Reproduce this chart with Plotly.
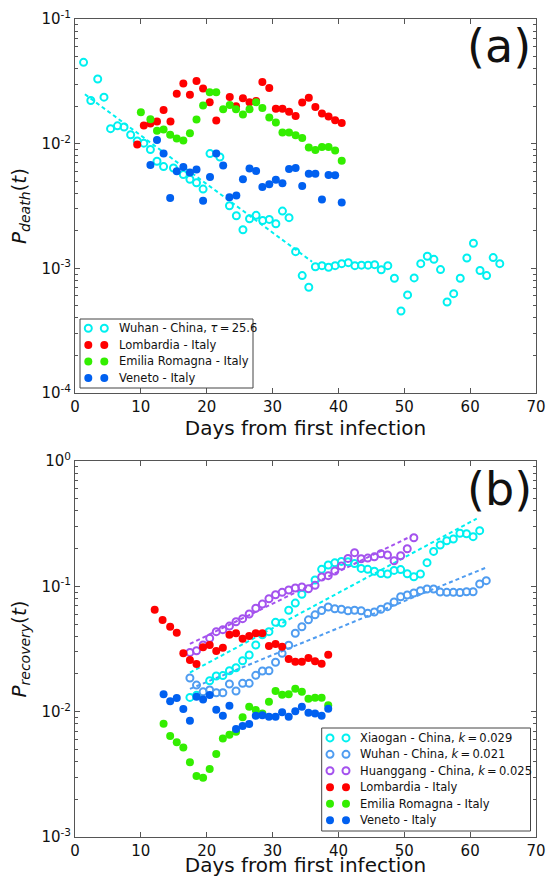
import plotly.graph_objects as go

# ---------------- Panel (a): death probability ----------------
wuhan_a_x = [1.3, 2.4, 3.45, 4.4, 5.4, 6.45, 7.45, 8.45, 9.45, 10.45, 11.45, 12.45, 13.45, 14.95,
             16.45, 17.45, 18.45, 19.45, 20.5, 22.0, 23.45, 24.5, 25.5, 26.5, 27.5, 28.5, 29.5,
             30.5, 31.5, 32.5, 33.5, 34.5, 35.5, 36.5, 37.5, 38.5, 39.5, 40.5, 41.5, 42.5, 43.5,
             44.5, 45.5, 46.5, 47.5, 48.5, 49.5, 50.5, 51.5, 52.5, 53.5, 54.5, 55.5, 56.5, 57.5,
             58.5, 59.5, 60.5, 61.5, 62.5, 63.5, 64.5]
wuhan_a_y = [0.0449, 0.0222, 0.0330, 0.0236, 0.0132, 0.0139, 0.0136, 0.0118, 0.0105, 0.0101,
             0.00897, 0.00723, 0.00655, 0.00638, 0.00565, 0.00518, 0.00486, 0.00432, 0.00832,
             0.00781, 0.00318, 0.00264, 0.00204, 0.00250, 0.00266, 0.00242, 0.00247, 0.00228,
             0.00288, 0.00255, 0.00136, 0.000875, 0.000705, 0.00103, 0.00105, 0.00102, 0.00105,
             0.00109, 0.00111, 0.00105, 0.00106, 0.00106, 0.00107, 0.000973, 0.00105, 0.000832,
             0.000455, 0.000612, 0.000838, 0.00109, 0.00125, 0.00118, 0.000977, 0.000537,
             0.000626, 0.000832, 0.00121, 0.00159, 0.00096, 0.000875, 0.00122, 0.00109]
wuhan_a_fit_x = [1.5, 36.0]
wuhan_a_fit_y = [0.0249, 0.00113]

lomb_a_x = [9.45, 10.45, 11.45, 12.45, 13.45, 14.5, 15.45, 16.45, 17.45, 18.45, 19.45, 20.45,
            21.45, 23.5, 24.45, 25.5, 26.5, 27.5, 28.45, 29.5, 30.5, 31.5, 32.5, 33.5, 34.5,
            35.5, 36.5, 37.5, 38.5, 39.5, 40.5]
lomb_a_y = [0.00984, 0.01396, 0.01452, 0.01507, 0.01866, 0.01507, 0.0251, 0.0304, 0.0247,
            0.0318, 0.0277, 0.0215, 0.01535, 0.0237, 0.0200, 0.0231, 0.0215, 0.0220, 0.0313,
            0.0279, 0.0191, 0.0191, 0.0180, 0.0167, 0.0214, 0.0233, 0.0197, 0.01745, 0.01652,
            0.01543, 0.01466]

emil_a_x = [10.0, 11.45, 12.45, 13.45, 14.45, 15.45, 16.45, 17.45, 18.45, 19.45, 20.45, 21.45,
            22.5, 23.5, 24.45, 25.5, 26.5, 27.5, 28.45, 29.5, 30.5, 31.5, 32.5, 33.5, 34.5,
            35.5, 36.5, 37.5, 38.5, 39.5, 40.5]
emil_a_y = [0.01786, 0.0157, 0.0127, 0.0130, 0.0118, 0.0110, 0.0106, 0.01213, 0.01563, 0.0202,
            0.0259, 0.0258, 0.0189, 0.0204, 0.0189, 0.01714, 0.0189, 0.0215, 0.01936, 0.0162,
            0.0148, 0.01228, 0.01228, 0.0117, 0.01112, 0.0093, 0.0089, 0.0094, 0.0094, 0.0088,
            0.0073]

ven_a_x = [11.45, 12.45, 13.45, 14.45, 15.45, 16.45, 17.45, 18.45, 19.45, 20.5, 21.45, 22.5,
           23.45, 24.5, 25.5, 26.5, 27.5, 28.45, 29.5, 30.5, 31.5, 32.5, 33.5, 34.5, 35.5, 36.5,
           37.5, 38.5, 39.5, 40.5]
ven_a_y = [0.00675, 0.01072, 0.00832, 0.00366, 0.00600, 0.0065, 0.00586, 0.0062, 0.00349,
           0.0054, 0.00832, 0.00667, 0.00371, 0.00384, 0.00518, 0.00631, 0.00604, 0.00449,
           0.00472, 0.00514, 0.00481, 0.00627, 0.00638, 0.00457, 0.00575, 0.00575, 0.00356,
           0.0056, 0.00557, 0.00337]

# ---------------- Panel (b): recovery probability ----------------
xiao_b_x = [17.45, 18.45, 20.45, 21.45, 22.45, 23.45, 24.45, 25.45, 26.45, 27.45, 28.45, 29.45,
            30.45, 31.45, 32.45, 33.45, 34.45, 36.45, 37.45, 38.45, 39.45, 40.45, 41.45, 42.45,
            43.45, 44.45, 45.45, 46.45, 47.45, 48.45, 49.45, 50.45, 51.45, 52.45, 53.45, 54.45,
            55.45, 56.45, 57.45, 58.45, 59.45, 60.45, 61.45]
xiao_b_y = [0.0130, 0.0135, 0.01766, 0.01924, 0.0194, 0.0212, 0.0224, 0.0255, 0.0283, 0.034,
            0.041, 0.0435, 0.0516, 0.051, 0.0645, 0.0735, 0.0865, 0.1124, 0.1367, 0.148, 0.154,
            0.158, 0.157, 0.152, 0.139, 0.1367, 0.132, 0.1265, 0.1255, 0.134, 0.136, 0.126,
            0.119, 0.1254, 0.1544, 0.190, 0.2137, 0.231, 0.2387, 0.265, 0.263, 0.249, 0.278]
xiao_fit_x = [17.45, 61.0]
xiao_fit_y = [0.0205, 0.347]

wuhan_b_x = [17.45, 18.45, 19.45, 20.45, 21.45, 22.45, 23.45, 24.45, 25.45, 26.45, 27.45, 28.45,
             29.45, 30.45, 31.45, 32.45, 33.45, 34.45, 35.45, 36.45, 37.45, 38.45, 39.45, 40.45,
             41.45, 42.45, 43.45, 44.45, 45.45, 46.45, 47.45, 48.45, 49.45, 50.45, 51.45, 52.45,
             53.45, 54.45, 55.45, 56.45, 57.45, 58.45, 59.45, 60.45, 61.45, 62.45]
wuhan_b_y = [0.01857, 0.0163, 0.0144, 0.0149, 0.01416, 0.01416, 0.01663, 0.01462, 0.01683,
             0.01683, 0.0195, 0.0211, 0.0212, 0.0248, 0.0292, 0.0339, 0.0422, 0.0476, 0.054,
             0.0592, 0.0641, 0.0684, 0.0663, 0.0656, 0.0639, 0.0644, 0.0639, 0.0609, 0.0624,
             0.0656, 0.0688, 0.075, 0.0826, 0.0853, 0.0885, 0.0923, 0.0952, 0.0952, 0.090,
             0.0896, 0.0896, 0.0893, 0.0906, 0.0906, 0.1044, 0.111]
wuhan_b_fit_x = [17.45, 62.4]
wuhan_b_fit_y = [0.0152, 0.141]

huang_b_x = [17.45, 18.45, 19.45, 20.45, 21.45, 22.45, 23.45, 24.45, 25.45, 26.45, 27.45, 28.45,
             29.45, 30.45, 31.45, 32.45, 33.45, 34.45, 35.45, 36.45, 37.45, 38.45, 39.45, 40.45,
             41.45, 42.45, 43.45, 44.45, 45.45, 46.45, 47.45, 48.45, 49.45, 50.45, 51.45]
huang_b_y = [0.0297, 0.0306, 0.034, 0.0385, 0.0435, 0.0451, 0.0482, 0.0522, 0.0552, 0.0602,
             0.0668, 0.0722, 0.0796, 0.0857, 0.0895, 0.0935, 0.097, 0.0988, 0.0957, 0.1019,
             0.1187, 0.1216, 0.1325, 0.1452, 0.167, 0.1857, 0.166, 0.168, 0.172, 0.182, 0.178,
             0.160, 0.1755, 0.1995, 0.244]
huang_fit_x = [17.45, 51.1]
huang_fit_y = [0.0347, 0.252]

lomb_b_x = [12.1, 13.3, 14.45, 15.45, 16.45, 17.45, 18.45, 19.45, 20.45, 21.45, 22.45, 23.45,
            24.45, 25.45, 26.45, 27.45, 28.45, 29.45, 30.45, 31.45, 32.45, 33.45, 34.45, 35.45,
            36.45, 37.45, 38.45]
lomb_b_y = [0.0651, 0.0539, 0.0476, 0.0427, 0.0292, 0.0258, 0.0240, 0.0326, 0.0340, 0.0305,
            0.0324, 0.0411, 0.0422, 0.0382, 0.0402, 0.0422, 0.0422, 0.0334, 0.0347, 0.0330,
            0.0263, 0.0250, 0.0250, 0.0268, 0.0252, 0.0241, 0.0285]

emil_b_x = [13.45, 14.45, 15.45, 16.45, 17.45, 18.45, 19.45, 20.45, 21.45, 22.45, 23.45, 24.45,
            25.45, 26.45, 27.45, 28.45, 29.45, 30.45, 31.45, 32.45, 33.45, 34.45, 35.45, 36.45,
            37.45, 38.45]
emil_b_y = [0.00802, 0.0064, 0.00569, 0.00518, 0.00394, 0.00307, 0.00297, 0.00348, 0.00459,
            0.0061, 0.00655, 0.00692, 0.00901, 0.01094, 0.0103, 0.00969, 0.0120, 0.01462,
            0.01365, 0.01374, 0.01524, 0.01442, 0.01268, 0.0129, 0.0129, 0.01124]

ven_b_x = emil_b_x
ven_b_y = [0.01374, 0.01210, 0.01285, 0.0105, 0.00847, 0.01316, 0.01253, 0.01358, 0.01037,
           0.00929, 0.01116, 0.00727, 0.00768, 0.00797, 0.00929, 0.00935, 0.00911, 0.00911,
           0.00988, 0.00911, 0.01007, 0.01094, 0.0098, 0.00969, 0.00929, 0.01056]

x_ticks = [0, 10, 20, 30, 40, 50, 60, 70]
ya_ticks = [1e-4, 1e-3, 1e-2, 1e-1]
ya_text = ["10<sup>-4</sup>", "10<sup>-3</sup>", "10<sup>-2</sup>", "10<sup>-1</sup>"]
yb_ticks = [1e-3, 1e-2, 1e-1, 1]
yb_text = ["10<sup>-3</sup>", "10<sup>-2</sup>", "10<sup>-1</sup>", "10<sup>0</sup>"]
minor_mult = [2, 3, 4, 5, 6, 7, 8, 9]

CYAN = "#00f0f0"
RED = "#ff0000"
GREEN = "#33ee00"
BLUE = "#0060f0"
LBLUE = "#4f9cf0"
PURPLE = "#a452ee"

FONT = "DejaVu Sans"
TS = "\u2009"

legend_a_labels = [f"Wuhan - China, <i>τ</i>{TS}={TS}25.6", "Lombardia - Italy",
                   "Emilia Romagna - Italy", "Veneto - Italy"]
legend_a_colors = [CYAN, RED, GREEN, BLUE]
legend_a_open = [True, False, False, False]

legend_b_labels = [f"Xiaogan - China, <i>k</i>{TS}={TS}0.029",
                   f"Wuhan - China, <i>k</i>{TS}={TS}0.021",
                   f"Huanggang - China, <i>k</i>{TS}={TS}0.025",
                   "Lombardia - Italy", "Emilia Romagna - Italy", "Veneto - Italy"]
legend_b_colors = [CYAN, LBLUE, PURPLE, RED, GREEN, BLUE]
legend_b_open = [True, True, True, False, False, False]

# figure geometry (pixels)
W, H = 551, 877
ML, MR, MT, MB = 75, 15, 19, 40
PW, PH = W - ML - MR, H - MT - MB


def px_x(p):
    return (p - ML) / PW


def px_y(p):
    return (H - MB - p) / PH


def minor_vals(ticks):
    return [m * t for t in ticks[:-1] for m in minor_mult]


fig = go.Figure()


def open_pts(x, y, color, name, xa, ya):
    fig.add_trace(go.Scatter(
        x=x, y=y, mode="markers", name=name, xaxis=xa, yaxis=ya, showlegend=False,
        marker=dict(symbol="circle-open", size=7, color=color, line=dict(width=2, color=color))))


def filled_pts(x, y, color, name, xa, ya):
    fig.add_trace(go.Scatter(
        x=x, y=y, mode="markers", name=name, xaxis=xa, yaxis=ya, showlegend=False,
        marker=dict(symbol="circle", size=8, color=color, line=dict(width=0))))


def fit_line(x, y, color, xa, ya):
    fig.add_trace(go.Scatter(
        x=x, y=y, mode="lines", showlegend=False, xaxis=xa, yaxis=ya, hoverinfo="skip",
        line=dict(color=color, width=2, dash="4px,3px")))


# panel (a)
fit_line(wuhan_a_fit_x, wuhan_a_fit_y, CYAN, "x", "y")
open_pts(wuhan_a_x, wuhan_a_y, CYAN, legend_a_labels[0], "x", "y")
filled_pts(lomb_a_x, lomb_a_y, RED, legend_a_labels[1], "x", "y")
filled_pts(emil_a_x, emil_a_y, GREEN, legend_a_labels[2], "x", "y")
filled_pts(ven_a_x, ven_a_y, BLUE, legend_a_labels[3], "x", "y")

# panel (b)
fit_line(xiao_fit_x, xiao_fit_y, CYAN, "x2", "y2")
fit_line(wuhan_b_fit_x, wuhan_b_fit_y, LBLUE, "x2", "y2")
fit_line(huang_fit_x, huang_fit_y, PURPLE, "x2", "y2")
open_pts(xiao_b_x, xiao_b_y, CYAN, legend_b_labels[0], "x2", "y2")
open_pts(wuhan_b_x, wuhan_b_y, LBLUE, legend_b_labels[1], "x2", "y2")
open_pts(huang_b_x, huang_b_y, PURPLE, legend_b_labels[2], "x2", "y2")
filled_pts(lomb_b_x, lomb_b_y, RED, legend_b_labels[3], "x2", "y2")
filled_pts(emil_b_x, emil_b_y, GREEN, legend_b_labels[4], "x2", "y2")
filled_pts(ven_b_x, ven_b_y, BLUE, legend_b_labels[5], "x2", "y2")

# ---- matplotlib-style legends (two sample markers per entry) ----
shapes = []
annotations = []


def build_legend(labels, colors, opens, box, first_row, row_gap):
    left, top, right, bottom = box
    shapes.append(dict(type="rect", xref="paper", yref="paper",
                       x0=px_x(left), x1=px_x(right), y0=px_y(bottom), y1=px_y(top),
                       line=dict(color="#444", width=1), fillcolor="white", layer="above"))
    for i, (lab, col, is_open) in enumerate(zip(labels, colors, opens)):
        yc = first_row + i * row_gap
        for mx in (left + 8.3, left + 24.3):
            r = 3.5 if is_open else 4.0
            shapes.append(dict(type="circle", xref="paper", yref="paper",
                               xsizemode="pixel", ysizemode="pixel",
                               xanchor=px_x(mx), yanchor=px_y(yc),
                               x0=-r, x1=r, y0=-r, y1=r, layer="above",
                               line=dict(color=col, width=2 if is_open else 0),
                               fillcolor="rgba(0,0,0,0)" if is_open else col))
        annotations.append(dict(text=lab, xref="paper", yref="paper",
                                x=px_x(left + 36.5), y=px_y(yc), xanchor="left",
                                yanchor="middle", showarrow=False,
                                font=dict(size=11.5, color="#111", family=FONT)))


build_legend(legend_a_labels, legend_a_colors, legend_a_open,
             (80, 319, 253, 388), 328.3, 16.6)
build_legend(legend_b_labels, legend_b_colors, legend_b_open,
             (321.7, 728, 530.5, 831), 737.9, 16.45)

annotations.append(dict(text="(a)", xref="paper", yref="paper", x=px_x(499), y=0.967,
                        showarrow=False, font=dict(size=46, color="#111", family=FONT),
                        xanchor="center", yanchor="middle"))
annotations.append(dict(text="(b)", xref="paper", yref="paper", x=px_x(499), y=0.425,
                        showarrow=False, font=dict(size=46, color="#111", family=FONT),
                        xanchor="center", yanchor="middle"))

AX = "#555555"
xcommon = dict(range=[0, 70], tickvals=x_ticks, ticks="inside", ticklen=5, tickcolor=AX,
               showline=True, linecolor=AX, linewidth=1, mirror="allticks", showgrid=False,
               zeroline=False, tickfont=dict(size=15, color="#111"), automargin=False,
               title=dict(text="Days from first infection", font=dict(size=20, color="#111"),
                          standoff=2))
ycommon = dict(type="log", ticks="inside", ticklen=5, tickcolor=AX, showline=True,
               linecolor=AX, linewidth=1, mirror="allticks", showgrid=False, zeroline=False,
               tickfont=dict(size=15, color="#111"), automargin=False)

fig.update_layout(
    width=W, height=H,
    margin=dict(l=ML, r=MR, t=MT, b=MB, autoexpand=False),
    paper_bgcolor="white", plot_bgcolor="white",
    font=dict(family=FONT, color="#111"),
    showlegend=False,
    xaxis=dict(**xcommon, anchor="y"),
    yaxis=dict(**ycommon, domain=[px_y(393), 1.0], range=[-4, -1], tickvals=ya_ticks,
               ticktext=ya_text, anchor="x",
               minor=dict(tickmode="array", tickvals=minor_vals(ya_ticks), ticks="inside",
                          ticklen=3, tickcolor=AX, showgrid=False),
               title=dict(text="<i>P</i><sub><i>death</i></sub>(<i>t</i>)",
                          font=dict(size=20, color="#111"), standoff=9)),
    xaxis2=dict(**xcommon, anchor="y2"),
    yaxis2=dict(**ycommon, domain=[0.0, px_y(461)], range=[-3, 0], tickvals=yb_ticks,
                ticktext=yb_text, anchor="x2",
                minor=dict(tickmode="array", tickvals=minor_vals(yb_ticks), ticks="inside",
                           ticklen=3, tickcolor=AX, showgrid=False),
                title=dict(text="<i>P</i><sub><i>recovery</i></sub>(<i>t</i>)",
                           font=dict(size=20, color="#111"), standoff=9)),
    shapes=shapes,
    annotations=annotations,
)

fig.write_html("out.html", config={"displayModeBar": False},
               post_script="document.body.style.margin='0';document.body.style.padding='0';")
